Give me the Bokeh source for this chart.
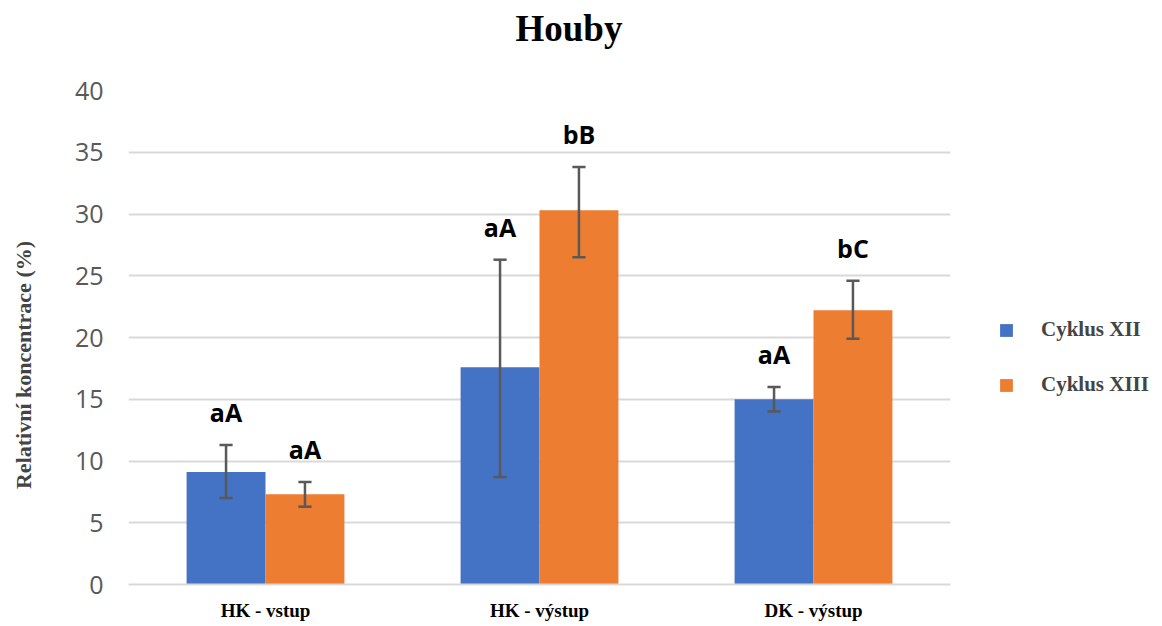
from bokeh.plotting import figure
from bokeh.models import ColumnDataSource, FactorRange, Legend, LegendItem, Title, FixedTicker
from bokeh.transform import dodge
from bokeh.core.properties import value
from bokeh.embed import file_html
from bokeh.resources import INLINE

categories = ["HK - vstup", "HK - výstup", "DK - výstup"]
series_names = ["Cyklus XII", "Cyklus XIII"]
xii_values = [9.1, 17.6, 15.0]
xii_upper = [11.3, 26.3, 16.0]
xii_lower = [7.0, 8.7, 14.0]
xii_labels = ["aA", "aA", "aA"]
xiii_values = [7.3, 30.3, 22.2]
xiii_upper = [8.3, 33.8, 24.6]
xiii_lower = [6.3, 26.5, 19.9]
xiii_labels = ["aA", "bB", "bC"]
y_ticks = [0, 5, 10, 15, 20, 25, 30, 35, 40]

BLUE = "#4472C4"
ORANGE = "#ED7D31"
SERIF = "Liberation Serif"
SANS = "Open Sans"

src_xii = ColumnDataSource(dict(cat=categories, val=xii_values, up=xii_upper, lo=xii_lower, lab=xii_labels))
src_xiii = ColumnDataSource(dict(cat=categories, val=xiii_values, up=xiii_upper, lo=xiii_lower, lab=xiii_labels))

p = figure(x_range=FactorRange(*categories, range_padding=0), y_range=(0, 40),
           frame_width=822, frame_height=494, output_backend="svg", toolbar_location=None,
           min_border_left=128, min_border_right=204, min_border_top=90, min_border_bottom=34)
p.outline_line_color = None
p.x_range.factor_padding = 0

w = 0.288
off = w / 2
r1 = p.vbar(x=dodge("cat", -off, range=p.x_range), top="val", width=w, source=src_xii,
            fill_color=BLUE, line_color=None)
r2 = p.vbar(x=dodge("cat", off, range=p.x_range), top="val", width=w, source=src_xiii,
            fill_color=ORANGE, line_color=None)

EC = "#595959"
cap = 0.024
for src, o in ((src_xii, -off), (src_xiii, off)):
    p.segment(x0=dodge("cat", o, range=p.x_range), x1=dodge("cat", o, range=p.x_range),
              y0="lo", y1="up", source=src, line_color=EC, line_width=2.5)
    for col in ("lo", "up"):
        p.segment(x0=dodge("cat", o - cap, range=p.x_range), x1=dodge("cat", o + cap, range=p.x_range),
                  y0=col, y1=col, source=src, line_color=EC, line_width=2.5)
    p.text(x=dodge("cat", o, range=p.x_range), y="up", text="lab", source=src,
           text_align="center", text_baseline="middle", y_offset=-33,
           text_font=value(SANS), text_font_style="bold", text_font_size="25px", text_color="#000000")

# axes
p.yaxis.ticker = FixedTicker(ticks=y_ticks)
p.yaxis.axis_line_color = None
p.yaxis.major_tick_line_color = None
p.yaxis.minor_tick_line_color = None
p.yaxis.major_label_text_font = SANS
p.yaxis.major_label_text_font_size = "25px"
p.yaxis.major_label_text_color = "#595959"
p.yaxis.major_label_standoff = 19
p.yaxis.axis_label = "Relativní koncentrace (%)" + "\u00a0" * 10
p.yaxis.axis_label_text_font = SERIF
p.yaxis.axis_label_text_font_style = "bold"
p.yaxis.axis_label_text_font_size = "22px"
p.yaxis.axis_label_standoff = 36

p.xaxis.axis_line_color = "#d9d9d9"
p.xaxis.axis_line_width = 2
p.xaxis.major_tick_line_color = None
p.xaxis.minor_tick_line_color = None
p.xaxis.major_label_text_font = SERIF
p.xaxis.major_label_text_font_style = "bold"
p.xaxis.major_label_text_font_size = "19px"
p.xaxis.major_label_text_color = "#000000"
p.xaxis.major_label_standoff = 9

p.xgrid.grid_line_color = None
p.ygrid.grid_line_color = "#d9d9d9"
p.ygrid.grid_line_width = 2

# title: a thin spacer panel next to the frame, then the title above it
p.title = None
p.add_layout(Title(text="\u00a0", text_font_size="1px", standoff=39), "above")
p.add_layout(Title(text="Houby", align="left", offset=387, text_font=SERIF,
                   text_font_style="bold", text_font_size="37px", text_color="#000000",
                   standoff=0), "above")

legend = Legend(items=[LegendItem(label=series_names[0], renderers=[r1]),
                       LegendItem(label=series_names[1], renderers=[r2])],
                location=(48, 187), label_text_font=SERIF, label_text_font_style="bold",
                label_text_font_size="21px", glyph_width=16, glyph_height=16, label_height=24,
                spacing=30, label_standoff=27, border_line_color=None, background_fill_alpha=0,
                padding=0, margin=0)
p.add_layout(legend, "right")

open("out.html", "w").write(file_html(p, INLINE))
